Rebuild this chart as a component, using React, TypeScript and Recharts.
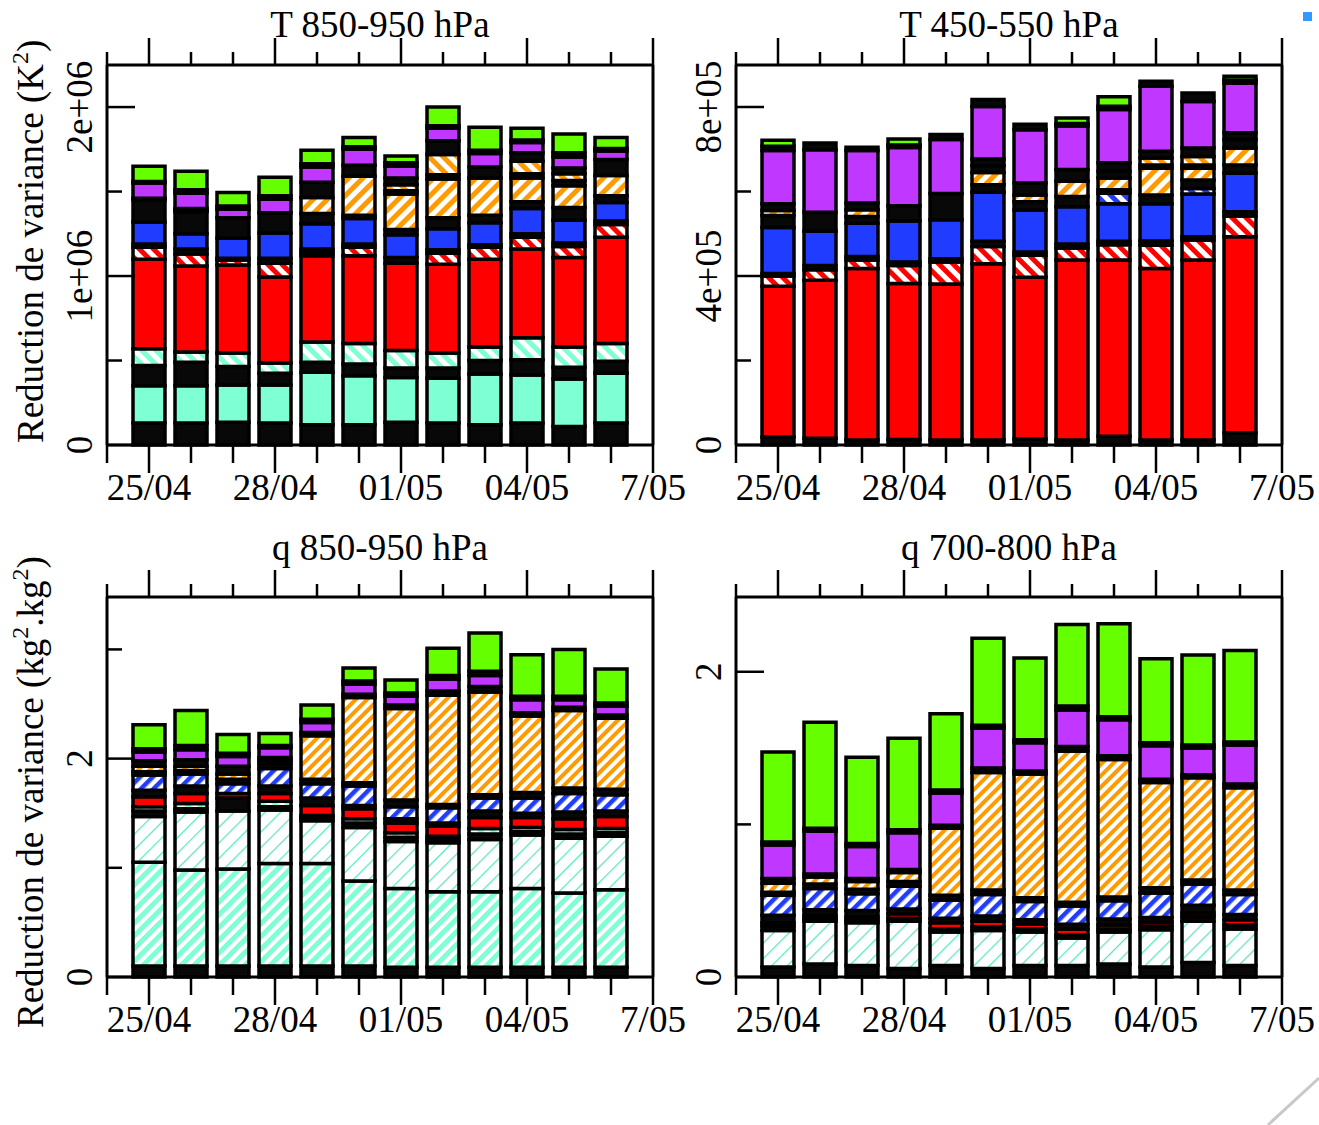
import { Bar, BarChart, XAxis, YAxis } from "recharts";

const FONT = "'Liberation Serif', 'Times New Roman', serif";
const FS = 37;

// x axis: one bar per day, 25/04 .. 06/05, axis runs 24/04 .. 07/05
const DAYS = [1, 2, 3, 4, 5, 6, 7, 8, 9, 10, 11, 12];
const AXIS_DAYS = [0, 1, 2, 3, 4, 5, 6, 7, 8, 9, 10, 11, 12, 13];
const MAJOR_DAYS = [1, 4, 7, 10, 13];
const DATE_LABELS = ["25/04", "28/04", "01/05", "04/05", "7/05"];

// stack order, bottom to top
const T_LAYERS = ["k0", "aq", "k1", "aqs", "r", "rs", "k2", "b", "bs", "k3", "os", "k4", "os2", "k6", "p", "k5", "g"];
const Q_LAYERS = ["k0", "aqs", "aql", "k1", "aqs2", "r", "k2", "bs", "k3", "os", "k4", "p", "k5", "g"];

// T 850-950 hPa, in 1e6 K^2
const T850: Record<string, number[]> = {
  k0: [0.13, 0.13, 0.135, 0.13, 0.12, 0.12, 0.135, 0.13, 0.12, 0.13, 0.11, 0.13],
  aq: [0.22, 0.22, 0.22, 0.225, 0.31, 0.29, 0.265, 0.265, 0.3, 0.285, 0.28, 0.295],
  k1: [0.12, 0.14, 0.11, 0.07, 0.06, 0.07, 0.055, 0.06, 0.08, 0.09, 0.07, 0.07],
  aqs: [0.1, 0.06, 0.08, 0.06, 0.12, 0.12, 0.105, 0.09, 0.08, 0.13, 0.12, 0.105],
  r: [0.53, 0.51, 0.52, 0.51, 0.51, 0.52, 0.515, 0.525, 0.52, 0.525, 0.53, 0.63],
  rs: [0.07, 0.07, 0.03, 0.08, 0.02, 0.05, 0, 0.065, 0.07, 0.07, 0.065, 0.075],
  k2: [0.02, 0.03, 0.01, 0.03, 0.02, 0.02, 0.035, 0.02, 0.015, 0.02, 0.02, 0.02],
  b: [0.13, 0.09, 0.12, 0.15, 0.15, 0.15, 0.135, 0.125, 0.13, 0.15, 0.135, 0.11],
  k3: [0.13, 0.13, 0.12, 0.12, 0.06, 0.02, 0.03, 0.065, 0.045, 0.04, 0.075, 0.04],
  os: [0.01, 0.01, 0, 0, 0.095, 0.23, 0.21, 0.23, 0.22, 0.14, 0.13, 0.12],
  k4: [0, 0.01, 0, 0, 0.09, 0.065, 0.02, 0.025, 0.065, 0.025, 0.03, 0],
  os2: [0, 0, 0, 0, 0, 0, 0.035, 0.12, 0, 0.075, 0.04, 0],
  k6: [0, 0, 0, 0, 0, 0, 0.04, 0.08, 0, 0.05, 0.035, 0.095],
  p: [0.09, 0.09, 0.05, 0.08, 0.09, 0.095, 0.07, 0.075, 0.08, 0.06, 0.065, 0.05],
  k5: [0.01, 0.02, 0.02, 0.02, 0.02, 0.015, 0.02, 0.015, 0.02, 0.015, 0.025, 0.015],
  g: [0.09, 0.11, 0.08, 0.11, 0.08, 0.055, 0.04, 0.11, 0.135, 0.07, 0.11, 0.065],
};

// T 450-550 hPa, in 1e5 K^2
const T450: Record<string, number[]> = {
  k0: [0.19, 0.16, 0.12, 0.13, 0.12, 0.12, 0.14, 0.12, 0.21, 0.12, 0.12, 0.29],
  r: [3.57, 3.74, 4.06, 3.69, 3.69, 4.17, 3.83, 4.26, 4.17, 4.06, 4.26, 4.64],
  rs: [0.24, 0.25, 0.2, 0.43, 0.52, 0.41, 0.52, 0.28, 0.36, 0.55, 0.47, 0.49],
  k2: [0.06, 0.1, 0.08, 0.08, 0.08, 0.12, 0.08, 0.1, 0.08, 0.1, 0.08, 0.1],
  b: [1.09, 0.81, 0.79, 0.97, 0.92, 1.16, 0.99, 0.88, 0.89, 0.88, 1.01, 0.91],
  bs: [0, 0, 0, 0, 0, 0, 0, 0, 0.25, 0, 0.13, 0],
  k3: [0.28, 0.45, 0.16, 0.36, 0.62, 0.18, 0.2, 0.24, 0.08, 0.21, 0.2, 0.2],
  os: [0.12, 0, 0.16, 0, 0, 0.29, 0.16, 0.36, 0.28, 0.63, 0.28, 0.4],
  k4: [0, 0, 0.16, 0, 0, 0.16, 0, 0, 0.16, 0.08, 0.08, 0.2],
  os2: [0, 0, 0, 0, 0, 0, 0, 0, 0, 0.16, 0.2, 0],
  k6: [0.16, 0, 0, 0, 0, 0.16, 0.28, 0.28, 0.2, 0.16, 0.2, 0.16],
  p: [1.26, 1.48, 1.24, 1.38, 1.28, 1.24, 1.26, 1.03, 1.26, 1.54, 1.1, 1.17],
  k5: [0.1, 0.16, 0.08, 0.06, 0.12, 0.17, 0.13, 0.06, 0.08, 0.12, 0.2, 0.08],
  g: [0.14, 0, 0, 0.14, 0, 0, 0, 0.13, 0.22, 0, 0, 0.09],
};

// q 850-950 hPa
const Q850: Record<string, number[]> = {
  k0: [0.1, 0.1, 0.1, 0.1, 0.1, 0.1, 0.09, 0.09, 0.09, 0.09, 0.09, 0.09],
  aqs: [0.95, 0.88, 0.89, 0.94, 0.94, 0.78, 0.72, 0.69, 0.69, 0.72, 0.68, 0.71],
  aql: [0.42, 0.53, 0.53, 0.49, 0.39, 0.49, 0.43, 0.45, 0.48, 0.49, 0.5, 0.49],
  k1: [0.05, 0.03, 0.12, 0.03, 0.03, 0.04, 0.04, 0.03, 0.05, 0.03, 0.04, 0.03],
  aqs2: [0.04, 0.05, 0, 0.05, 0.02, 0.04, 0.04, 0.03, 0.05, 0.04, 0.04, 0.04],
  r: [0.09, 0.09, 0.04, 0.07, 0.09, 0.09, 0.09, 0.09, 0.1, 0.09, 0.1, 0.11],
  k2: [0.06, 0.07, 0, 0.07, 0.07, 0.03, 0.04, 0.03, 0.06, 0.04, 0.06, 0.05],
  bs: [0.14, 0.11, 0.09, 0.16, 0.13, 0.18, 0.11, 0.14, 0.12, 0.14, 0.17, 0.15],
  k3: [0.03, 0.03, 0.04, 0.04, 0.04, 0.03, 0.06, 0.03, 0.03, 0.05, 0.05, 0.05],
  os: [0.05, 0.04, 0.05, 0.03, 0.4, 0.78, 0.84, 1.0, 0.94, 0.7, 0.71, 0.65],
  k4: [0.05, 0.06, 0.07, 0.03, 0.03, 0.03, 0.03, 0.04, 0.05, 0.03, 0.03, 0.03],
  p: [0.08, 0.09, 0.09, 0.09, 0.09, 0.09, 0.08, 0.11, 0.1, 0.12, 0.07, 0.08],
  k5: [0.03, 0.04, 0.03, 0.02, 0.03, 0.03, 0.03, 0.03, 0.04, 0.03, 0.03, 0.03],
  g: [0.22, 0.32, 0.17, 0.11, 0.13, 0.12, 0.12, 0.25, 0.35, 0.38, 0.43, 0.31],
};

// q 700-800 hPa
const Q700: Record<string, number[]> = {
  k0: [0.065, 0.085, 0.075, 0.055, 0.075, 0.055, 0.075, 0.075, 0.085, 0.065, 0.095, 0.075],
  aql: [0.24, 0.28, 0.28, 0.31, 0.22, 0.25, 0.22, 0.18, 0.21, 0.245, 0.27, 0.24],
  k1: [0.03, 0.02, 0.02, 0.02, 0.02, 0.025, 0.02, 0.02, 0.02, 0.025, 0.03, 0.025],
  r: [0.02, 0.02, 0.02, 0.03, 0.04, 0.035, 0.03, 0.04, 0.025, 0.025, 0.025, 0.035],
  k2: [0.05, 0.035, 0.04, 0.03, 0.03, 0.035, 0.03, 0.03, 0.04, 0.03, 0.05, 0.035],
  bs: [0.13, 0.14, 0.11, 0.15, 0.12, 0.14, 0.12, 0.12, 0.12, 0.16, 0.14, 0.13],
  k3: [0.02, 0.03, 0.03, 0.03, 0.03, 0.03, 0.025, 0.025, 0.025, 0.035, 0.025, 0.03],
  os: [0.06, 0.045, 0.05, 0.06, 0.44, 0.77, 0.81, 0.99, 0.9, 0.69, 0.67, 0.67],
  k4: [0.03, 0.02, 0.02, 0.02, 0.02, 0.03, 0.02, 0.03, 0.025, 0.02, 0.02, 0.025],
  p: [0.22, 0.28, 0.21, 0.24, 0.21, 0.26, 0.185, 0.24, 0.235, 0.22, 0.175, 0.255],
  k5: [0.02, 0.02, 0.02, 0.02, 0.02, 0.02, 0.02, 0.025, 0.02, 0.02, 0.02, 0.02],
  g: [0.59, 0.695, 0.565, 0.6, 0.5, 0.57, 0.535, 0.535, 0.61, 0.55, 0.59, 0.6],
};

const COLORS: Record<string, string> = {
  black: "#080808",
  aqua: "#7fffd4",
  aquaLine: "#5fe6c4",
  red: "#ff0000",
  blue: "#1f3cff",
  orange: "#ff9a00",
  purple: "#c037ff",
  green: "#66ff00",
};

const W = 680;
const H = 530;
// plot frame inside each chart box
const FRAME = { left: 107, top: 65, right: 653, bottom: 445 };
const Y_AXIS_W = 60;
const Y_AXIS_R = 20;
const X_AXIS_TOP = 30;
const X_AXIS_BOTTOM = 60;

type StripeDef = { key: string; color: string; angle: number; period: number; line: number; bg?: string };

const T_STRIPES: StripeDef[] = [
  { key: "aqs", color: COLORS.aqua, angle: -45, period: 10, line: 5 },
  { key: "rs", color: COLORS.red, angle: -45, period: 10, line: 5 },
  { key: "bs", color: COLORS.blue, angle: -45, period: 10, line: 5 },
  { key: "os", color: COLORS.orange, angle: 45, period: 10, line: 5 },
  { key: "os2", color: COLORS.orange, angle: -45, period: 10, line: 5 },
];

const Q_STRIPES: StripeDef[] = [
  { key: "aqs", color: COLORS.aqua, angle: 45, period: 9, line: 5 },
  { key: "aql", color: COLORS.aquaLine, angle: 45, period: 11, line: 1.3 },
  { key: "aqs2", color: COLORS.aqua, angle: -45, period: 9, line: 4.5 },
  { key: "bs", color: COLORS.blue, angle: 45, period: 9, line: 4.5 },
  { key: "os", color: COLORS.orange, angle: 45, period: 8, line: 4 },
];

function solidFill(key: string): string {
  if (key.startsWith("k")) return COLORS.black;
  if (key === "aq") return COLORS.aqua;
  if (key === "r") return COLORS.red;
  if (key === "b") return COLORS.blue;
  if (key === "p") return COLORS.purple;
  if (key === "g") return COLORS.green;
  return "#ccc";
}

function BottomTick(props: any) {
  const { x, y, payload } = props;
  const k = MAJOR_DAYS.indexOf(payload.value);
  return (
    <g>
      <line x1={x} x2={x} y1={y} y2={y + (k >= 0 ? 28 : 18)} stroke="#000" strokeWidth={2.5} />
      {k >= 0 && (
        <text x={x} y={y + 55} textAnchor="middle" fontFamily={FONT} fontSize={FS} fill="#000">
          {DATE_LABELS[k]}
        </text>
      )}
    </g>
  );
}

function TopTick(props: any) {
  const { x, y, payload } = props;
  const major = MAJOR_DAYS.includes(payload.value);
  return <line x1={x} x2={x} y1={y} y2={y - (major ? 27 : 13)} stroke="#000" strokeWidth={2.5} />;
}

function leftTick(majors: number[], labels: string[]) {
  return (props: any) => {
    const { x, y, payload } = props;
    const k = majors.indexOf(payload.value);
    return (
      <g>
        <line x1={x} x2={x + (k >= 0 ? 28 : 15)} y1={y} y2={y} stroke="#000" strokeWidth={2.5} />
        {k >= 0 && (
          <text
            transform={`translate(${x - 15},${y}) rotate(-90)`}
            textAnchor="middle"
            fontFamily={FONT}
            fontSize={FS}
            fill="#000"
          >
            {labels[k]}
          </text>
        )}
      </g>
    );
  };
}

function rightTick(majors: number[]) {
  return (props: any) => {
    const { x, y, payload } = props;
    const major = majors.includes(payload.value);
    return <line x1={x} x2={x - (major ? 28 : 15)} y1={y} y2={y} stroke="#000" strokeWidth={2.5} />;
  };
}

type PanelProps = {
  id: string;
  left: number;
  top: number;
  table: Record<string, number[]>;
  layers: string[];
  stripes: StripeDef[];
  unit: number;
  yMax: number;
  yTicks: number[];
  yMajor: number[];
  yLabels: string[];
};

function Panel({ id, left, top, table, layers, stripes, unit, yMax, yTicks, yMajor, yLabels }: PanelProps) {
  const rows = DAYS.map((day, i) => {
    const row: Record<string, number> = { day };
    layers.forEach((key) => {
      row[key] = (table[key] ? table[key][i] : 0) * unit;
    });
    return row;
  });
  const striped = new Set(stripes.map((s) => s.key));
  const axisLine = { stroke: "#000", strokeWidth: 3 };

  return (
    <div style={{ position: "absolute", left, top, width: W, height: H }}>
      <BarChart
        width={W}
        height={H}
        data={rows}
        margin={{
          top: FRAME.top - X_AXIS_TOP,
          left: FRAME.left - Y_AXIS_W,
          right: W - FRAME.right - Y_AXIS_R,
          bottom: H - FRAME.bottom - X_AXIS_BOTTOM,
        }}
      >
        <defs>
          {stripes.map((s) => (
            <pattern
              key={s.key}
              id={`${id}-${s.key}`}
              patternUnits="userSpaceOnUse"
              width={s.period}
              height={s.period}
              patternTransform={`rotate(${s.angle})`}
            >
              <rect width={s.period} height={s.period} fill={s.bg || "#fff"} />
              <rect width={s.line} height={s.period} fill={s.color} />
            </pattern>
          ))}
        </defs>
        <XAxis
          xAxisId="b"
          type="number"
          dataKey="day"
          domain={[0, 13]}
          ticks={AXIS_DAYS}
          interval={0}
          height={X_AXIS_BOTTOM}
          tickSize={0}
          tickMargin={0}
          tickLine={false}
          axisLine={axisLine}
          tick={BottomTick}
        />
        <XAxis
          xAxisId="t"
          orientation="top"
          type="number"
          dataKey="day"
          domain={[0, 13]}
          ticks={AXIS_DAYS}
          interval={0}
          height={X_AXIS_TOP}
          tickSize={0}
          tickMargin={0}
          tickLine={false}
          axisLine={axisLine}
          tick={TopTick}
        />
        <YAxis
          yAxisId="l"
          type="number"
          domain={[0, yMax]}
          ticks={yTicks}
          interval={0}
          width={Y_AXIS_W}
          tickSize={0}
          tickMargin={0}
          tickLine={false}
          axisLine={axisLine}
          tick={leftTick(yMajor, yLabels)}
        />
        <YAxis
          yAxisId="r"
          orientation="right"
          type="number"
          domain={[0, yMax]}
          ticks={yTicks}
          interval={0}
          width={Y_AXIS_R}
          tickSize={0}
          tickMargin={0}
          tickLine={false}
          axisLine={axisLine}
          tick={rightTick(yMajor)}
        />
        {layers.map((key) => (
          <Bar
            key={key}
            dataKey={key}
            stackId="s"
            xAxisId="b"
            yAxisId="l"
            barSize={32}
            fill={striped.has(key) ? `url(#${id}-${key})` : solidFill(key)}
            stroke="#000"
            strokeWidth={3.5}
            isAnimationActive={false}
          />
        ))}
      </BarChart>
    </div>
  );
}

function Labels() {
  const text = { fontFamily: FONT, fontSize: FS, fill: "#000" };
  return (
    <svg width={1319} height={1125} style={{ position: "absolute", left: 0, top: 0, pointerEvents: "none" }}>
      <text x={380} y={37} textAnchor="middle" {...text}>T 850-950 hPa</text>
      <text x={1009} y={37} textAnchor="middle" {...text}>T 450-550 hPa</text>
      <text x={380} y={560} textAnchor="middle" {...text}>q 850-950 hPa</text>
      <text x={1009} y={560} textAnchor="middle" {...text}>q 700-800 hPa</text>
      <text transform="translate(43,443) rotate(-90)" {...text}>
        Reduction de variance (K
        <tspan dy={-15} fontSize={24}>2</tspan>
        <tspan dy={15}>)</tspan>
      </text>
      <text transform="translate(43,1028) rotate(-90)" {...text}>
        Reduction de variance (kg
        <tspan dy={-15} fontSize={24}>2</tspan>
        <tspan dy={15}>.kg</tspan>
        <tspan dy={-15} fontSize={24}>2</tspan>
        <tspan dy={15}>)</tspan>
      </text>
      <rect x={1303} y={12} width={9} height={9} fill="#3399ff" />
      <line x1={1268} y1={1125} x2={1319} y2={1078} stroke="#c8c8c8" strokeWidth={3} />
    </svg>
  );
}

export default function App() {
  return (
    <div style={{ position: "absolute", left: 0, top: 0, width: 1319, height: 1125, background: "#fff", overflow: "hidden" }}>
      <style>{`.recharts-surface { overflow: visible; }`}</style>
      <Panel
        id="t850"
        left={0}
        top={0}
        table={T850}
        layers={T_LAYERS}
        stripes={T_STRIPES}
        unit={1e6}
        yMax={2.249e6}
        yTicks={[0, 5e5, 1e6, 1.5e6, 2e6]}
        yMajor={[0, 1e6, 2e6]}
        yLabels={["0", "1e+06", "2e+06"]}
      />
      <Panel
        id="t450"
        left={629}
        top={0}
        table={T450}
        layers={T_LAYERS}
        stripes={T_STRIPES}
        unit={1e5}
        yMax={8.994e5}
        yTicks={[0, 2e5, 4e5, 6e5, 8e5]}
        yMajor={[0, 4e5, 8e5]}
        yLabels={["0", "4e+05", "8e+05"]}
      />
      <Panel
        id="q850"
        left={0}
        top={532}
        table={Q850}
        layers={Q_LAYERS}
        stripes={Q_STRIPES}
        unit={1}
        yMax={3.48}
        yTicks={[0, 1, 2, 3]}
        yMajor={[0, 2]}
        yLabels={["0", "2"]}
      />
      <Panel
        id="q700"
        left={629}
        top={532}
        table={Q700}
        layers={Q_LAYERS}
        stripes={Q_STRIPES}
        unit={1}
        yMax={2.49}
        yTicks={[0, 1, 2]}
        yMajor={[0, 2]}
        yLabels={["0", "2"]}
      />
      <Labels />
    </div>
  );
}
